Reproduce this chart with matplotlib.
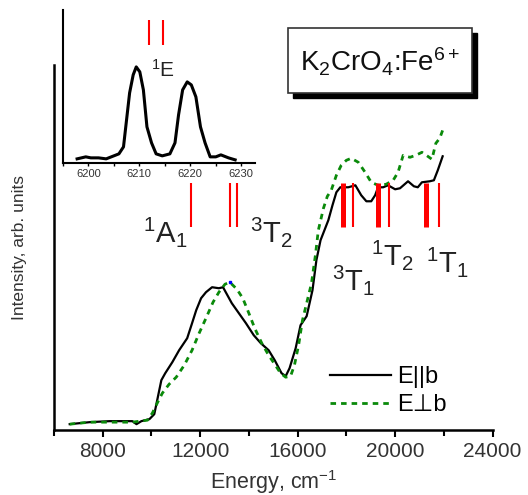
import matplotlib
matplotlib.use("Agg")
import matplotlib.pyplot as plt
from matplotlib.patches import Rectangle
from matplotlib.ticker import MultipleLocator

plt.rcParams['font.family'] = ['Liberation Sans', 'DejaVu Sans']
plt.rcParams['mathtext.default'] = 'regular'

# Spectrum E||b
e_par = [6650, 7470, 8290, 9220, 9390, 9590, 9920, 10120, 10240, 10410, 10570, 10860,
         11140, 11470, 11670, 11840, 12040, 12240, 12490, 12770, 12940, 13300, 13590,
         13880, 14200, 14490, 14810, 15060, 15340, 15510, 15670, 15920, 16120, 16370,
         16610, 16770, 16940, 17260, 17430, 17590, 17750, 18080, 18370, 18610, 18820,
         19020, 19180, 19300, 19510, 19710, 20000, 20200, 20530, 20770, 20930, 21100,
         21420, 21590, 21750, 21950]
i_par = [0.06, 0.08, 0.09, 0.09, 0.06, 0.09, 0.11, 0.16, 0.30, 0.50, 0.57, 0.68,
         0.80, 0.92, 1.07, 1.20, 1.32, 1.38, 1.43, 1.42, 1.43, 1.27, 1.17,
         1.07, 0.95, 0.87, 0.80, 0.70, 0.57, 0.54, 0.62, 0.82, 1.05, 1.14,
         1.40, 1.70, 1.90, 2.10, 2.25, 2.38, 2.43, 2.43, 2.45, 2.35, 2.29,
         2.29, 2.35, 2.43, 2.43, 2.45, 2.41, 2.42, 2.49, 2.44, 2.43, 2.48,
         2.49, 2.50, 2.60, 2.74]

# Spectrum E perpendicular b
e_perp = [6650, 7470, 8290, 9220, 9840, 10040, 10240, 10450, 10730, 11020, 11350, 11670,
          11960, 12240, 12530, 12770, 13020, 13220, 13510, 13750, 14000, 14240, 14530,
          14810, 15060, 15300, 15510, 15710, 15870, 16040, 16200, 16400, 16570, 16730,
          16850, 17060, 17220, 17380, 17590, 17790, 18000, 18200, 18490, 18770, 19020,
          19300, 19630, 19920, 20120, 20330, 20610, 20850, 21100, 21340, 21510, 21670,
          21830, 21950]
i_perp = [0.06, 0.08, 0.08, 0.08, 0.10, 0.17, 0.27, 0.37, 0.46, 0.53, 0.65, 0.80,
          0.97, 1.12, 1.28, 1.38, 1.46, 1.48, 1.41, 1.32, 1.17, 1.02, 0.87,
          0.75, 0.66, 0.57, 0.53, 0.54, 0.65, 0.85, 1.10, 1.30, 1.47, 1.75,
          2.00, 2.22, 2.34, 2.40, 2.55, 2.65, 2.70, 2.72, 2.68, 2.58, 2.48,
          2.45, 2.46, 2.50, 2.58, 2.75, 2.73, 2.75, 2.78, 2.74, 2.71, 2.87,
          2.92, 3.00]

# calculated levels (red bars)
lvl_thin = [11630, 13220, 13510, 18280, 19750, 21790]
lvl_thick = [17870, 19300, 21260]

# inset: 1E zero-phonon lines
e_ins = [6197.8, 6199.5, 6200.5, 6202, 6203.5, 6205, 6206.0, 6206.9, 6207.5, 6208.1,
         6208.8, 6209.4, 6210.1, 6210.8, 6211.5, 6212.4, 6213.3, 6214.5, 6216.0, 6217.0,
         6217.7, 6218.5, 6219.4, 6220.2, 6221.1, 6222.0, 6222.9, 6223.9, 6225.0, 6226.0,
         6227.5, 6228.8]
i_ins = [0.04, 0.06, 0.05, 0.05, 0.04, 0.07, 0.09, 0.16, 0.43, 0.70,
         0.88, 0.96, 0.91, 0.73, 0.36, 0.20, 0.09, 0.07, 0.09, 0.20,
         0.48, 0.73, 0.81, 0.78, 0.66, 0.36, 0.20, 0.06, 0.06, 0.08,
         0.05, 0.03]
lvl_ins = [6212.0, 6214.7]

# term labels
terms = [r'$^{1}$A$_{1}$', r'$^{3}$T$_{2}$', r'$^{3}$T$_{1}$', r'$^{1}$T$_{2}$', r'$^{1}$T$_{1}$']
term_e = [9640, 14030, 17420, 19020, 21280]
term_i = [1.88, 1.88, 1.40, 1.65, 1.58]

fig = plt.figure(figsize=(5.28, 4.95), dpi=100)
ax = fig.add_axes([0.102, 0.131, 0.831, 0.737])

ax.plot(e_par, i_par, color="black", lw=1.6, label="E||b")
ax.plot(e_perp, i_perp, color="#0a8a0a", lw=2.0, ls=(0, (2, 1.8)), label="E\u22a5b")
ax.vlines(lvl_thin, 2.03, 2.47, color="red", lw=1.5)
ax.vlines(lvl_thick, 2.03, 2.47, color="red", lw=3.6)
ax.plot([13230], [1.48], marker="s", ms=1.5, color="blue")

for t, x, y in zip(terms, term_e, term_i):
    ax.text(x, y, t, fontsize=21, color="#222222", ha="left", va="baseline")

ax.set_xlim(6000, 24000)
ax.set_ylim(0, 3.65)
ax.xaxis.set_major_locator(MultipleLocator(4000))
ax.xaxis.set_minor_locator(MultipleLocator(2000))
ax.set_yticks([])
for s in ["top", "right"]:
    ax.spines[s].set_visible(False)
ax.spines["left"].set_linewidth(1.8)
ax.spines["bottom"].set_linewidth(1.8)
ax.tick_params(axis="x", which="major", direction="out", length=5, width=1.5,
               labelsize=15, labelcolor="#333333")
ax.tick_params(axis="x", which="minor", direction="out", length=4, width=1.5)
ax.set_xlabel(r"Energy, cm$^{-1}$", fontsize=15.5, color="#333333", labelpad=5)
ax.set_ylabel("Intensity, arb. units", fontsize=12.5, color="#333333", labelpad=19)

ax.legend(loc="lower left", bbox_to_anchor=(0.58, -0.02), frameon=False, fontsize=17,
          handlelength=2.6, handletextpad=0.25, labelspacing=0.25)

# inset
axi = fig.add_axes([0.119, 0.671, 0.364, 0.309])
axi.plot(e_ins, i_ins, color="black", lw=2.2)
axi.vlines(lvl_ins, 1.18, 1.43, color="red", lw=1.5)
axi.text(6212.3, 0.86, r'$^{1}$E', fontsize=15, color="#222222", ha="left", va="baseline")
axi.set_xlim(6195, 6232.7)
axi.set_ylim(0, 1.53)
axi.xaxis.set_major_locator(MultipleLocator(10))
axi.xaxis.set_minor_locator(MultipleLocator(5))
axi.set_yticks([])
for s in ["top", "right"]:
    axi.spines[s].set_visible(False)
axi.spines["left"].set_linewidth(1.5)
axi.spines["bottom"].set_linewidth(1.5)
axi.tick_params(axis="x", which="both", direction="out", length=2.5, width=1,
                labelsize=8, labelcolor="#333333", pad=2)

# title box with shadow
fig.patches.append(Rectangle((293 / 528, 1 - 98 / 495), 184 / 528, 65 / 495,
                             transform=fig.transFigure, facecolor="black",
                             edgecolor="black", zorder=5))
fig.patches.append(Rectangle((288 / 528, 1 - 93 / 495), 184 / 528, 65 / 495,
                             transform=fig.transFigure, facecolor="white",
                             edgecolor="#333333", lw=1.2, zorder=6))
fig.text(380 / 528, 1 - 62 / 495, r'K$_{2}$CrO$_{4}$:Fe$^{6+}$', fontsize=20,
         color="#111111", ha="center", va="center", zorder=7)

fig.savefig("out.png", dpi=100)
